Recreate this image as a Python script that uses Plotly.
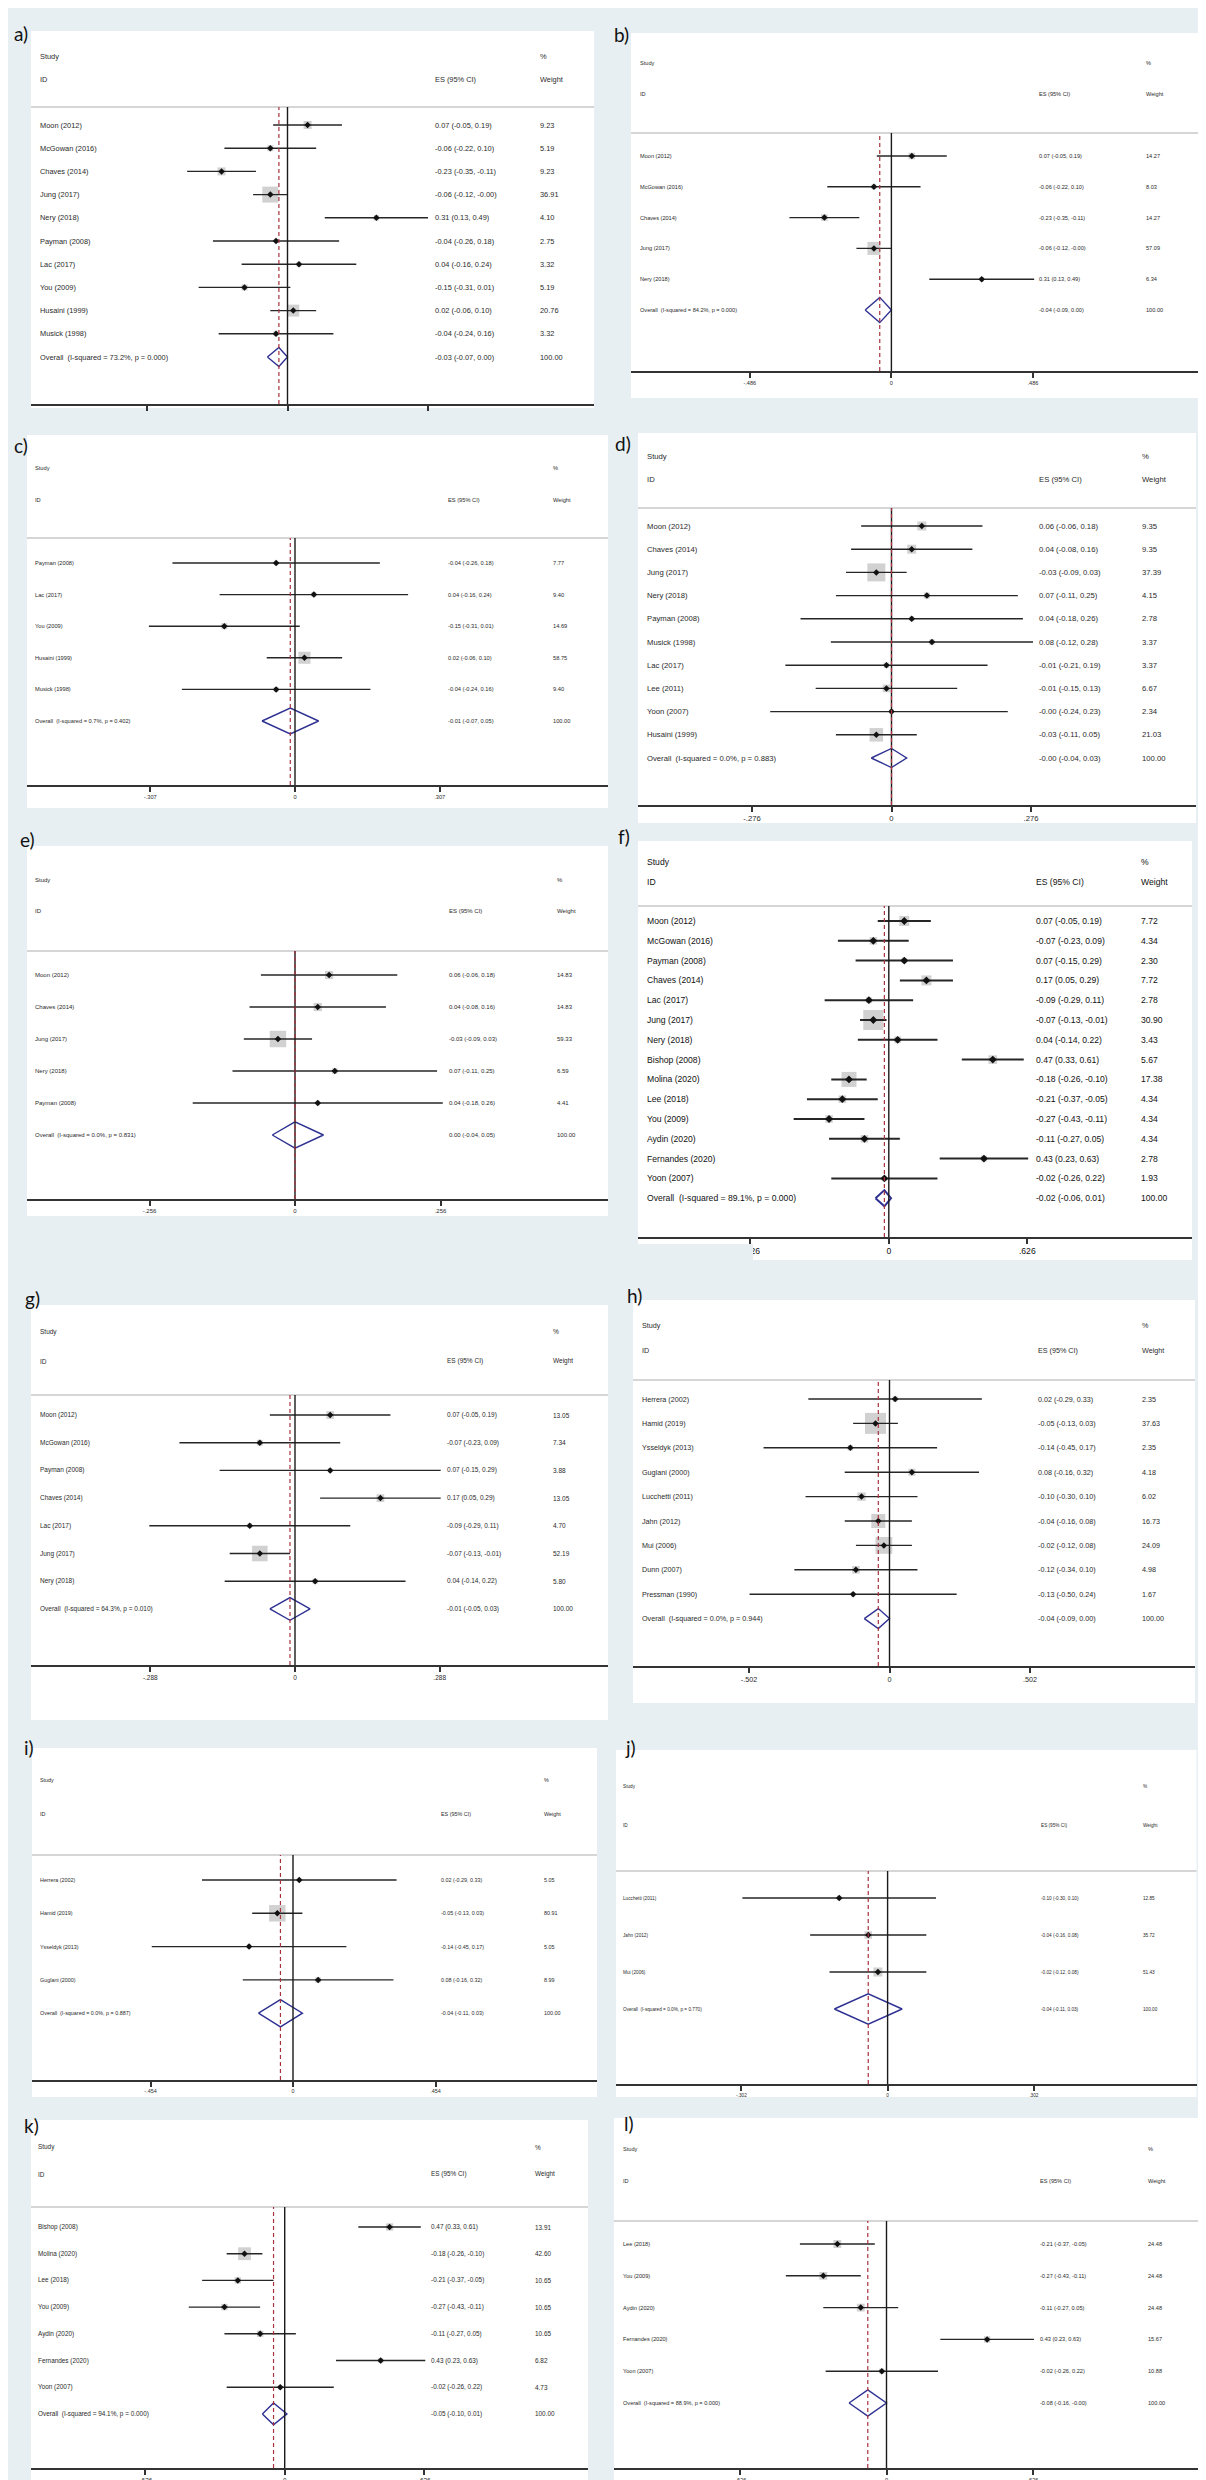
import math
import plotly.graph_objects as go

W, H = 1206, 2480
BG = "#e7eff2"
TXT = "#2a2a2a"
FONT = "Liberation Sans"
ES_HEAD = "ES (95% CI)"

# ---------------- data ----------------
A_STUDY = ["Moon (2012)", "McGowan (2016)", "Chaves (2014)", "Jung (2017)", "Nery (2018)",
           "Payman (2008)", "Lac (2017)", "You (2009)", "Husaini (1999)", "Musick (1998)"]
A_ES = [0.07, -0.06, -0.23, -0.06, 0.31, -0.04, 0.04, -0.15, 0.02, -0.04]
A_LO = [-0.05, -0.22, -0.35, -0.12, 0.13, -0.26, -0.16, -0.31, -0.06, -0.24]
A_HI = [0.19, 0.10, -0.11, -0.0, 0.49, 0.18, 0.24, 0.01, 0.10, 0.16]
A_WT = [9.23, 5.19, 9.23, 36.91, 4.10, 2.75, 3.32, 5.19, 20.76, 3.32]
A_OVERALL = [-0.03, -0.07, 0.00]
A_HET = "I-squared = 73.2%, p = 0.000"
A_TICKS = [-0.49, 0, 0.49]
A_TICKTEXT = ["-.49", "0", ".49"]

B_STUDY = ["Moon (2012)", "McGowan (2016)", "Chaves (2014)", "Jung (2017)", "Nery (2018)"]
B_ES = [0.07, -0.06, -0.23, -0.06, 0.31]
B_LO = [-0.05, -0.22, -0.35, -0.12, 0.13]
B_HI = [0.19, 0.10, -0.11, -0.0, 0.49]
B_WT = [14.27, 8.03, 14.27, 57.09, 6.34]
B_OVERALL = [-0.04, -0.09, 0.00]
B_HET = "I-squared = 84.2%, p = 0.000"
B_TICKS = [-0.486, 0, 0.486]
B_TICKTEXT = ["-.486", "0", ".486"]

C_STUDY = ["Payman (2008)", "Lac (2017)", "You (2009)", "Husaini (1999)", "Musick (1998)"]
C_ES = [-0.04, 0.04, -0.15, 0.02, -0.04]
C_LO = [-0.26, -0.16, -0.31, -0.06, -0.24]
C_HI = [0.18, 0.24, 0.01, 0.10, 0.16]
C_WT = [7.77, 9.40, 14.69, 58.75, 9.40]
C_OVERALL = [-0.01, -0.07, 0.05]
C_HET = "I-squared = 0.7%, p = 0.402"
C_TICKS = [-0.307, 0, 0.307]
C_TICKTEXT = ["-.307", "0", ".307"]

D_STUDY = ["Moon (2012)", "Chaves (2014)", "Jung (2017)", "Nery (2018)", "Payman (2008)",
           "Musick (1998)", "Lac (2017)", "Lee (2011)", "Yoon (2007)", "Husaini (1999)"]
D_ES = [0.06, 0.04, -0.03, 0.07, 0.04, 0.08, -0.01, -0.01, -0.0, -0.03]
D_LO = [-0.06, -0.08, -0.09, -0.11, -0.18, -0.12, -0.21, -0.15, -0.24, -0.11]
D_HI = [0.18, 0.16, 0.03, 0.25, 0.26, 0.28, 0.19, 0.13, 0.23, 0.05]
D_WT = [9.35, 9.35, 37.39, 4.15, 2.78, 3.37, 3.37, 6.67, 2.34, 21.03]
D_OVERALL = [-0.0, -0.04, 0.03]
D_HET = "I-squared = 0.0%, p = 0.883"
D_TICKS = [-0.276, 0, 0.276]
D_TICKTEXT = ["-.276", "0", ".276"]

E_STUDY = ["Moon (2012)", "Chaves (2014)", "Jung (2017)", "Nery (2018)", "Payman (2008)"]
E_ES = [0.06, 0.04, -0.03, 0.07, 0.04]
E_LO = [-0.06, -0.08, -0.09, -0.11, -0.18]
E_HI = [0.18, 0.16, 0.03, 0.25, 0.26]
E_WT = [14.83, 14.83, 59.33, 6.59, 4.41]
E_OVERALL = [0.00, -0.04, 0.05]
E_HET = "I-squared = 0.0%, p = 0.831"
E_TICKS = [-0.256, 0, 0.256]
E_TICKTEXT = ["-.256", "0", ".256"]

F_STUDY = ["Moon (2012)", "McGowan (2016)", "Payman (2008)", "Chaves (2014)", "Lac (2017)",
           "Jung (2017)", "Nery (2018)", "Bishop (2008)", "Molina (2020)", "Lee (2018)",
           "You (2009)", "Aydin (2020)", "Fernandes (2020)", "Yoon (2007)"]
F_ES = [0.07, -0.07, 0.07, 0.17, -0.09, -0.07, 0.04, 0.47, -0.18, -0.21, -0.27, -0.11, 0.43, -0.02]
F_LO = [-0.05, -0.23, -0.15, 0.05, -0.29, -0.13, -0.14, 0.33, -0.26, -0.37, -0.43, -0.27, 0.23, -0.26]
F_HI = [0.19, 0.09, 0.29, 0.29, 0.11, -0.01, 0.22, 0.61, -0.10, -0.05, -0.11, 0.05, 0.63, 0.22]
F_WT = [7.72, 4.34, 2.30, 7.72, 2.78, 30.90, 3.43, 5.67, 17.38, 4.34, 4.34, 4.34, 2.78, 1.93]
F_OVERALL = [-0.02, -0.06, 0.01]
F_HET = "I-squared = 89.1%, p = 0.000"
F_TICKS = [-0.626, 0, 0.626]
F_TICKTEXT = ["-.626", "0", ".626"]

G_STUDY = ["Moon (2012)", "McGowan (2016)", "Payman (2008)", "Chaves (2014)", "Lac (2017)",
           "Jung (2017)", "Nery (2018)"]
G_ES = [0.07, -0.07, 0.07, 0.17, -0.09, -0.07, 0.04]
G_LO = [-0.05, -0.23, -0.15, 0.05, -0.29, -0.13, -0.14]
G_HI = [0.19, 0.09, 0.29, 0.29, 0.11, -0.01, 0.22]
G_WT = [13.05, 7.34, 3.88, 13.05, 4.70, 52.19, 5.80]
G_OVERALL = [-0.01, -0.05, 0.03]
G_HET = "I-squared = 64.3%, p = 0.010"
G_TICKS = [-0.288, 0, 0.288]
G_TICKTEXT = ["-.288", "0", ".288"]

H_STUDY = ["Herrera (2002)", "Hamid (2019)", "Ysseldyk (2013)", "Guglani (2000)", "Lucchetti (2011)",
           "Jahn (2012)", "Mui (2006)", "Dunn (2007)", "Pressman (1990)"]
H_ES = [0.02, -0.05, -0.14, 0.08, -0.10, -0.04, -0.02, -0.12, -0.13]
H_LO = [-0.29, -0.13, -0.45, -0.16, -0.30, -0.16, -0.12, -0.34, -0.50]
H_HI = [0.33, 0.03, 0.17, 0.32, 0.10, 0.08, 0.08, 0.10, 0.24]
H_WT = [2.35, 37.63, 2.35, 4.18, 6.02, 16.73, 24.09, 4.98, 1.67]
H_OVERALL = [-0.04, -0.09, 0.00]
H_HET = "I-squared = 0.0%, p = 0.944"
H_TICKS = [-0.502, 0, 0.502]
H_TICKTEXT = ["-.502", "0", ".502"]

I_STUDY = ["Herrera (2002)", "Hamid (2019)", "Ysseldyk (2013)", "Guglani (2000)"]
I_ES = [0.02, -0.05, -0.14, 0.08]
I_LO = [-0.29, -0.13, -0.45, -0.16]
I_HI = [0.33, 0.03, 0.17, 0.32]
I_WT = [5.05, 80.91, 5.05, 8.99]
I_OVERALL = [-0.04, -0.11, 0.03]
I_HET = "I-squared = 0.0%, p = 0.887"
I_TICKS = [-0.454, 0, 0.454]
I_TICKTEXT = ["-.454", "0", ".454"]

J_STUDY = ["Lucchetti (2011)", "Jahn (2012)", "Mui (2006)"]
J_ES = [-0.10, -0.04, -0.02]
J_LO = [-0.30, -0.16, -0.12]
J_HI = [0.10, 0.08, 0.08]
J_WT = [12.85, 35.72, 51.43]
J_OVERALL = [-0.04, -0.11, 0.03]
J_HET = "I-squared = 0.0%, p = 0.770"
J_TICKS = [-0.302, 0, 0.302]
J_TICKTEXT = ["-.302", "0", ".302"]

K_STUDY = ["Bishop (2008)", "Molina (2020)", "Lee (2018)", "You (2009)", "Aydin (2020)",
           "Fernandes (2020)", "Yoon (2007)"]
K_ES = [0.47, -0.18, -0.21, -0.27, -0.11, 0.43, -0.02]
K_LO = [0.33, -0.26, -0.37, -0.43, -0.27, 0.23, -0.26]
K_HI = [0.61, -0.10, -0.05, -0.11, 0.05, 0.63, 0.22]
K_WT = [13.91, 42.60, 10.65, 10.65, 10.65, 6.82, 4.73]
K_OVERALL = [-0.05, -0.10, 0.01]
K_HET = "I-squared = 94.1%, p = 0.000"
K_TICKS = [-0.626, 0, 0.626]
K_TICKTEXT = ["-.626", "0", ".626"]

L_STUDY = ["Lee (2018)", "You (2009)", "Aydin (2020)", "Fernandes (2020)", "Yoon (2007)"]
L_ES = [-0.21, -0.27, -0.11, 0.43, -0.02]
L_LO = [-0.37, -0.43, -0.27, 0.23, -0.26]
L_HI = [-0.05, -0.11, 0.05, 0.63, 0.22]
L_WT = [24.48, 24.48, 24.48, 15.67, 10.88]
L_OVERALL = [-0.08, -0.16, -0.0]
L_HET = "I-squared = 88.9%, p = 0.000"
L_TICKS = [-0.626, 0, 0.626]
L_TICKTEXT = ["-.626", "0", ".626"]

# ---------------- layout constants (pixels) ----------------
LAY = {
    "a": dict(L=23, R=586, T=23, B=400, axis=396, sep=99, sy=48, iy=71, first=117, sp=23.2,
              zero=279.5, tpx=420, sx=30, ex=425, wx=530, fs=7.4, k=2.63, lab=(12.5, 25.5),
              showlab=False, lw=1.4),
    "b": dict(L=623, R=1191, T=25, B=390, axis=363, sep=125, sy=55, iy=86, first=148, sp=30.8,
              zero=883.4, tpx=1025, sx=630, ex=1029, wx=1136, fs=5.6, k=1.72, lab=(613, 27)),
    "c": dict(L=19, R=600, T=427, B=800, axis=777, sep=530, sy=460, iy=492, first=555, sp=31.6,
              zero=287, tpx=431.7, sx=25, ex=438, wx=543, fs=5.7, k=1.57, lab=(13, 437)),
    "d": dict(L=630, R=1188, T=425, B=815, axis=797, sep=500, sy=449, iy=472, first=518, sp=23.2,
              zero=883.5, tpx=1023, sx=636.6, ex=1029, wx=1132, fs=7.7, k=2.94, lab=(615, 436)),
    "e": dict(L=19, R=600, T=838, B=1208, axis=1191, sep=943, sy=872, iy=903, first=967, sp=32,
              zero=287, tpx=432.5, sx=25, ex=439, wx=547, fs=6.0, k=2.14, lab=(19, 831)),
    "f": dict(L=630, R=1184, T=833, B=1252, axis=1229, sep=898, sy=854, iy=874, first=913, sp=19.8,
              zero=880.8, tpx=1019.3, sx=636.6, ex=1026, wx=1131, fs=8.6, k=3.6, lab=(616, 829),
              lw=2.0, bold=True),
    "g": dict(L=23, R=600, T=1297, B=1712, axis=1657, sep=1387, sy=1324, iy=1353, first=1407, sp=27.7,
              zero=287, tpx=431.7, sx=29.5, ex=437, wx=543, fs=6.5, k=2.15, lab=(24, 1290)),
    "h": dict(L=625, R=1187, T=1292, B=1695, axis=1658, sep=1372, sy=1317, iy=1342, first=1391, sp=24.4,
              zero=881.5, tpx=1022, sx=631.6, ex=1028, wx=1131.5, fs=7.2, k=3.42, lab=(626, 1287)),
    "i": dict(L=24, R=589, T=1740, B=2089, axis=2072, sep=1847, sy=1772, iy=1806, first=1872, sp=33.3,
              zero=285, tpx=427.5, sx=29.5, ex=431, wx=534, fs=5.4, k=1.83, lab=(21, 1739)),
    "j": dict(L=608, R=1188.5, T=1742, B=2089, axis=2076, sep=1863, sy=1779, iy=1817, first=1890, sp=37,
              zero=879.6, tpx=1025.8, sx=613, ex=1031, wx=1133, fs=4.7, k=1.26, lab=(622, 1739)),
    "k": dict(L=23, R=580, T=2112, B=2478, axis=2460, sep=2199, sy=2139, iy=2166, first=2219, sp=26.7,
              zero=276.7, tpx=416.4, sx=28, ex=421, wx=525, fs=6.4, k=1.96, lab=(23, 2117)),
    "l": dict(L=606, R=1193.5, T=2110, B=2478, axis=2460, sep=2213, sy=2141, iy=2173, first=2236, sp=31.8,
              zero=878.5, tpx=1025, sx=613, ex=1030, wx=1138, fs=5.6, k=1.58, lab=(621, 2115)),
}

PANELS = [
    ("a", A_STUDY, A_ES, A_LO, A_HI, A_WT, A_OVERALL, A_HET, A_TICKS, A_TICKTEXT),
    ("b", B_STUDY, B_ES, B_LO, B_HI, B_WT, B_OVERALL, B_HET, B_TICKS, B_TICKTEXT),
    ("c", C_STUDY, C_ES, C_LO, C_HI, C_WT, C_OVERALL, C_HET, C_TICKS, C_TICKTEXT),
    ("d", D_STUDY, D_ES, D_LO, D_HI, D_WT, D_OVERALL, D_HET, D_TICKS, D_TICKTEXT),
    ("e", E_STUDY, E_ES, E_LO, E_HI, E_WT, E_OVERALL, E_HET, E_TICKS, E_TICKTEXT),
    ("f", F_STUDY, F_ES, F_LO, F_HI, F_WT, F_OVERALL, F_HET, F_TICKS, F_TICKTEXT),
    ("g", G_STUDY, G_ES, G_LO, G_HI, G_WT, G_OVERALL, G_HET, G_TICKS, G_TICKTEXT),
    ("h", H_STUDY, H_ES, H_LO, H_HI, H_WT, H_OVERALL, H_HET, H_TICKS, H_TICKTEXT),
    ("i", I_STUDY, I_ES, I_LO, I_HI, I_WT, I_OVERALL, I_HET, I_TICKS, I_TICKTEXT),
    ("j", J_STUDY, J_ES, J_LO, J_HI, J_WT, J_OVERALL, J_HET, J_TICKS, J_TICKTEXT),
    ("k", K_STUDY, K_ES, K_LO, K_HI, K_WT, K_OVERALL, K_HET, K_TICKS, K_TICKTEXT),
    ("l", L_STUDY, L_ES, L_LO, L_HI, L_WT, L_OVERALL, L_HET, L_TICKS, L_TICKTEXT),
]


def f2(v):
    return f"{v:.2f}"


def px(x):
    return x / W


def py(y):
    return 1 - y / H


fig = go.Figure()
shapes, annos, axes = [], [], {}

for idx, (key, study, es, lo, hi, wt, ov, het, ticks, ticktext) in enumerate(PANELS, start=1):
    Ly = LAY[key]
    xa = "x" if idx == 1 else f"x{idx}"
    ya = "y" if idx == 1 else f"y{idx}"
    xkey = "xaxis" if idx == 1 else f"xaxis{idx}"
    ykey = "yaxis" if idx == 1 else f"yaxis{idx}"
    fs = Ly["fs"]
    lw = Ly.get("lw", 1.4)
    txtcol = "#111111" if Ly.get("bold") else TXT
    tfont = dict(size=fs, family=FONT, color=txtcol)

    scale = (Ly["tpx"] - Ly["zero"]) / ticks[2]
    xr = [(Ly["L"] - Ly["zero"]) / scale, (Ly["R"] - Ly["zero"]) / scale]
    ybot = (Ly["axis"] - Ly["first"]) / Ly["sp"]
    ytop = (Ly["sep"] - Ly["first"]) / Ly["sp"]

    axes[xkey] = dict(domain=[px(Ly["L"]), px(Ly["R"])], range=xr, anchor=ya,
                      tickmode="array", tickvals=ticks, ticktext=ticktext,
                      showticklabels=Ly.get("showlab", True), ticks="outside", ticklen=5,
                      tickwidth=1.5, tickcolor="#333333", showline=True, linecolor="#333333",
                      linewidth=2, showgrid=False, zeroline=False, tickfont=tfont, fixedrange=True)
    axes[ykey] = dict(domain=[py(Ly["axis"]), py(Ly["sep"])], range=[ybot, ytop], anchor=xa,
                      visible=False, fixedrange=True)

    n = len(study)
    rows = list(range(n))

    # white panel box
    shapes.append(dict(type="rect", xref="paper", yref="paper", x0=px(Ly["L"]), x1=px(Ly["R"]),
                       y0=py(Ly["B"]), y1=py(Ly["T"]), fillcolor="white", line=dict(width=0),
                       layer="below"))
    # separator
    shapes.append(dict(type="line", xref="paper", yref="paper", x0=px(Ly["L"]), x1=px(Ly["R"]),
                       y0=py(Ly["sep"]), y1=py(Ly["sep"]), line=dict(color="#c9c9c9", width=1.5)))
    # null line
    shapes.append(dict(type="line", xref=xa, yref=f"{ya} domain", x0=0, x1=0, y0=0, y1=1,
                       line=dict(color="#1a1a1a", width=1.4)))
    # overall dashed line
    shapes.append(dict(type="line", xref=xa, yref=f"{ya} domain", x0=ov[0], x1=ov[0], y0=0, y1=1,
                       line=dict(color="#a8323e", width=1.2, dash="4px,3px")))

    # weight boxes
    fig.add_trace(go.Scatter(x=es, y=rows, mode="markers", xaxis=xa, yaxis=ya,
                             marker=dict(symbol="square", color="#bdbdbd",
                                         size=[Ly["k"] * math.sqrt(w) for w in wt],
                                         line=dict(width=0)),
                             hoverinfo="skip", showlegend=False))
    # CI lines
    cx, cy = [], []
    for r, a, b in zip(rows, lo, hi):
        cx += [a, b, None]
        cy += [r, r, None]
    fig.add_trace(go.Scatter(x=cx, y=cy, mode="lines", xaxis=xa, yaxis=ya,
                             line=dict(color="#262626", width=lw),
                             hoverinfo="skip", showlegend=False))
    # point estimates
    fig.add_trace(go.Scatter(x=es, y=rows, mode="markers", xaxis=xa, yaxis=ya,
                             marker=dict(symbol="diamond", color="#111111",
                                         size=6 if Ly.get("bold") else 5),
                             hoverinfo="skip", showlegend=False))
    # overall diamond
    hh = 0.41
    fig.add_trace(go.Scatter(x=[ov[1], ov[0], ov[2], ov[0], ov[1]],
                             y=[n, n - hh, n, n + hh, n], mode="lines", xaxis=xa, yaxis=ya,
                             line=dict(color="#2e3192", width=2.0 if Ly.get("bold") else 1.4),
                             hoverinfo="skip", showlegend=False))

    # panel label
    annos.append(dict(x=px(Ly["lab"][0]), y=py(Ly["lab"][1]), xref="paper", yref="paper",
                      text=f"{key})", showarrow=False, xanchor="center", yanchor="middle",
                      font=dict(size=19, family="Lato", color="#111111")))
    # headers
    for text, xx, yy in [("Study", Ly["sx"], Ly["sy"]), ("ID", Ly["sx"], Ly["iy"]),
                         (ES_HEAD, Ly["ex"], Ly["iy"]), ("%", Ly["wx"], Ly["sy"]),
                         ("Weight", Ly["wx"], Ly["iy"])]:
        annos.append(dict(x=px(xx), y=py(yy), xref="paper", yref="paper", text=text,
                          showarrow=False, xanchor="left", yanchor="middle", font=tfont))
    # row texts
    for r in rows:
        for text, xx in [(study[r], Ly["sx"]),
                         (f"{f2(es[r])} ({f2(lo[r])}, {f2(hi[r])})", Ly["ex"]),
                         (f2(wt[r]), Ly["wx"])]:
            annos.append(dict(x=px(xx), y=r, xref="paper", yref=ya, text=text, showarrow=False,
                              xanchor="left", yanchor="middle", font=tfont))
    for text, xx in [(f"Overall  ({het})", Ly["sx"]),
                     (f"{f2(ov[0])} ({f2(ov[1])}, {f2(ov[2])})", Ly["ex"]),
                     ("100.00", Ly["wx"])]:
        annos.append(dict(x=px(xx), y=n, xref="paper", yref=ya, text=text, showarrow=False,
                          xanchor="left", yanchor="middle", font=tfont))

# partial cover of panel f's left tick label (as in the source image)
shapes.append(dict(type="rect", xref="paper", yref="paper", x0=px(604), x1=px(745),
                   y0=py(1282), y1=py(1236), fillcolor=BG, line=dict(width=0), layer="above"))

fig.update_layout(width=W, height=H, margin=dict(l=0, r=0, t=0, b=0),
                  paper_bgcolor=BG, plot_bgcolor="rgba(0,0,0,0)", showlegend=False,
                  shapes=shapes, annotations=annos, **axes)

fig.write_html("out.html")
